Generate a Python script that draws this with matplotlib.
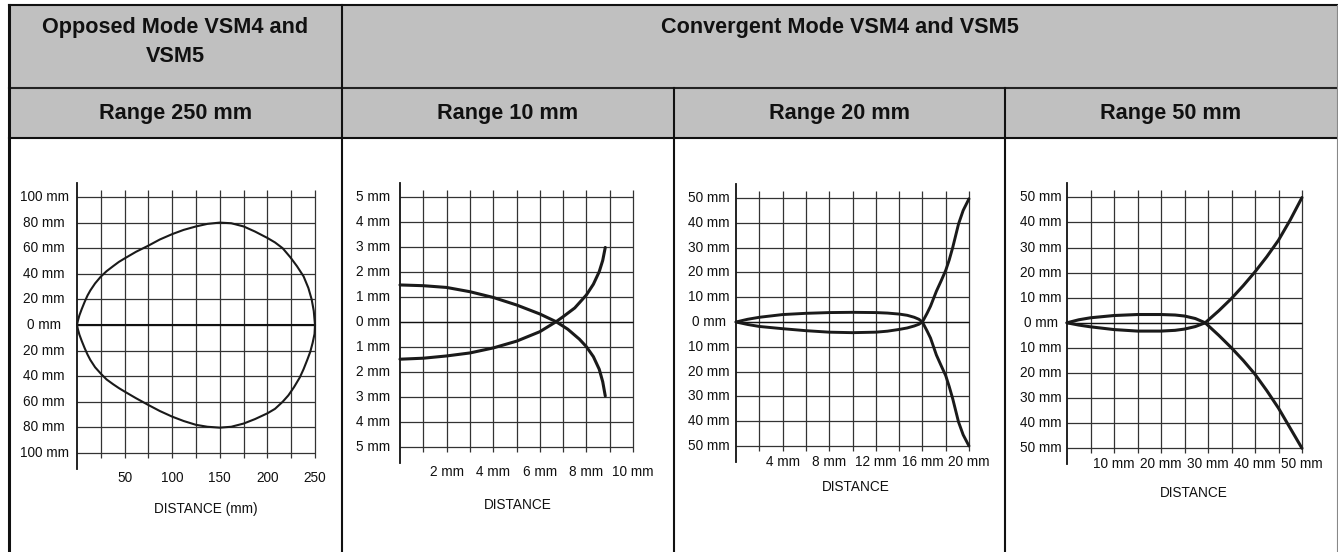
import numpy as np
import matplotlib
matplotlib.use("Agg")
import matplotlib.pyplot as plt
from matplotlib import font_manager as fm
from matplotlib.patches import Rectangle

# ---------------- data ----------------
header_opposed = ["Opposed Mode VSM4 and", "VSM5"]
header_convergent = "Convergent Mode VSM4 and VSM5"
range_titles = ["Range 250 mm", "Range 10 mm", "Range 20 mm", "Range 50 mm"]

# Panel 1: opposed mode, range 250 mm
p1_yticks = [100, 80, 60, 40, 20, 0, -20, -40, -60, -80, -100]
p1_ylabels = ["100 mm", "80 mm", "60 mm", "40 mm", "20 mm", "0 mm",
              "20 mm", "40 mm", "60 mm", "80 mm", "100 mm"]
p1_xticks = [50, 100, 150, 200, 250]
p1_xlabels = ["50", "100", "150", "200", "250"]
p1_upper_x = [0, 1, 2.5, 5, 8, 11, 14, 19, 25, 31, 38, 44, 50, 62, 75, 87, 100,
              112, 125, 137, 150, 162, 175, 187, 200, 208, 216, 224, 231, 238,
              243, 246.5, 248.7, 250]
p1_upper_y = [0, 3.5, 7.5, 12.5, 18, 23, 27, 32.5, 37.8, 42, 46, 49.3, 52, 57.2,
              62, 66.8, 71, 74.3, 77, 79, 80, 79.5, 77, 73, 68, 64.5, 60, 53, 46,
              38, 29, 20, 11, 0]
p1_lower_x = [0, 1, 2.5, 5, 8, 11, 14, 19, 25, 31, 38, 44, 50, 62, 75, 87, 100,
              112, 125, 137, 150, 162, 175, 187, 200, 208, 216, 222, 228, 234,
              238, 242, 245, 247.5, 249.5, 250]
p1_lower_y = [0, -3.5, -7.5, -12.5, -18, -23, -27.3, -33, -38, -42.5, -46.3, -49.3,
              -52, -57.2, -62.5, -67.2, -71.6, -75, -78, -79.5, -80.2, -79.5, -77,
              -73.5, -69, -65.5, -60, -55, -48.5, -41, -34.5, -27, -21, -14, -7, 0]

# Panel 2: convergent, range 10 mm
p2_yticks = [5, 4, 3, 2, 1, 0, -1, -2, -3, -4, -5]
p2_ylabels = ["5 mm", "4 mm", "3 mm", "2 mm", "1 mm", "0 mm",
              "1 mm", "2 mm", "3 mm", "4 mm", "5 mm"]
p2_xticks = [2, 4, 6, 8, 10]
p2_xlabels = ["2 mm", "4 mm", "6 mm", "8 mm", "10 mm"]
p2_a_x = [0, 1, 2, 3, 4, 5, 6, 6.7, 7.2, 7.7, 8, 8.3, 8.55, 8.7, 8.81]
p2_a_y = [1.47, 1.44, 1.37, 1.2, 0.97, 0.67, 0.31, 0.0, -0.3, -0.7, -1.0, -1.4,
          -1.9, -2.4, -2.97]
p2_b_x = [0, 1, 2, 3, 4, 5, 6, 6.7, 7, 7.5, 8, 8.3, 8.55, 8.7, 8.81]
p2_b_y = [-1.5, -1.46, -1.37, -1.25, -1.05, -0.78, -0.4, 0.0, 0.2, 0.55, 1.07,
          1.5, 2.0, 2.45, 2.97]

# Panel 3: convergent, range 20 mm
p3_yticks = [50, 40, 30, 20, 10, 0, -10, -20, -30, -40, -50]
p3_ylabels = ["50 mm", "40 mm", "30 mm", "20 mm", "10 mm", "0 mm",
              "10 mm", "20 mm", "30 mm", "40 mm", "50 mm"]
p3_xticks = [4, 8, 12, 16, 20]
p3_xlabels = ["4 mm", "8 mm", "12 mm", "16 mm", "20 mm"]
p3_lens_x = [0, 1, 2, 4, 6, 8, 10, 12, 13, 14, 14.7, 15.3, 15.7, 16]
p3_lens_up = [0, 1.1, 1.9, 3.0, 3.5, 3.8, 3.9, 3.8, 3.6, 3.2, 2.7, 1.9, 1.1, 0]
p3_lens_dn = [0, -1.0, -1.8, -2.7, -3.5, -4.1, -4.3, -4.1, -3.7, -3.0, -2.4,
              -1.6, -0.9, 0]
p3_branch_x = [16, 16.4, 16.7, 17.2, 17.6, 18, 18.3, 18.6, 19.1, 19.5, 20]
p3_branch_up = [0, 3.5, 6.4, 12.4, 16.5, 20.8, 25, 30, 39.5, 45, 49.7]
p3_branch_dn = [0, -3.6, -6.5, -13.3, -17.5, -21.6, -26, -30.9, -40.3, -45.5, -50]

# Panel 4: convergent, range 50 mm
p4_yticks = p3_yticks
p4_ylabels = p3_ylabels
p4_xticks = [10, 20, 30, 40, 50]
p4_xlabels = ["10 mm", "20 mm", "30 mm", "40 mm", "50 mm"]
p4_lens_x = [0, 2.5, 5, 10, 15, 20, 23, 25, 27.3, 29.4]
p4_lens_up = [0, 1.2, 2.0, 2.9, 3.3, 3.3, 3.1, 2.7, 1.7, 0]
p4_lens_dn = [0, -0.9, -1.6, -2.7, -3.3, -3.3, -3.0, -2.5, -1.5, 0]
p4_branch_x = [29.4, 32.3, 35, 37.5, 40, 42.5, 45, 47.5, 50]
p4_branch_up = [0, 4.8, 9.7, 14.8, 20.3, 26.3, 32.9, 41, 49.9]
p4_branch_dn = [0, -5, -10, -15, -20.5, -27, -34, -42, -50]

# ---------------- fonts ----------------
names = {f.name for f in fm.fontManager.ttflist}
if "Liberation Sans Narrow" in names:
    FAM = ["Liberation Sans Narrow", "DejaVu Sans"]
    TICK_FS, HEAD_FS = 10.8, 17.5
else:
    FAM = ["Liberation Sans", "DejaVu Sans"]
    TICK_FS, HEAD_FS = 9.8, 15.6
plt.rcParams["font.family"] = FAM

TXT = "#111111"
GRID = "#333333"

W, H = 1338, 552
fig = plt.figure(figsize=(W / 100, H / 100), dpi=100)

# ---------------- table frame ----------------
bg = fig.add_axes([0, 0, 1, 1])
bg.set_xlim(0, W)
bg.set_ylim(H, 0)
bg.axis("off")
bg.add_patch(Rectangle((9, 5), 1328, 133, facecolor="#c0c0c0", edgecolor="none"))
LW = 1.5
bg.plot([9, 1337], [5, 5], color="#111111", lw=LW)
bg.plot([9, 1337], [88, 88], color="#222222", lw=LW)
bg.plot([9, 1337], [138, 138], color="#111111", lw=LW)
bg.plot([9, 9], [5, H], color="#111111", lw=2.2)
bg.plot([1337, 1337], [5, H], color="#888888", lw=0.8)
bg.plot([342, 342], [5, H], color="#111111", lw=LW)
bg.plot([674, 674], [88, H], color="#111111", lw=LW)
bg.plot([1005, 1005], [88, H], color="#111111", lw=LW)

hk = dict(fontsize=HEAD_FS, fontweight="bold", color=TXT, ha="center", va="center")
bg.text(175.5, 28, header_opposed[0], **hk)
bg.text(175.5, 56, header_opposed[1], **hk)
bg.text(839.5, 28, header_convergent, **hk)
for cx, t in zip([175.5, 508, 839.5, 1171], range_titles):
    bg.text(cx, 113, t, **hk)


def make_ax(left, right, top, bottom):
    return fig.add_axes([left / W, 1 - bottom / H, (right - left) / W, (bottom - top) / H])


def panel(ax, xmax, ymax, xstep, ystep, yticks, ylabels, xticks, xlabels,
          ylab_dx, xlab_dy, dist_text, dist_dx, dist_dy, zero_lw):
    ax.set_xlim(0, xmax)
    ax.set_ylim(-ymax, ymax)
    ax.axis("off")
    hpx = ax.get_position().height * H
    xs = np.arange(xstep, xmax + xstep / 2, xstep)
    ys = np.arange(-ymax, ymax + ystep / 2, ystep)
    ax.vlines(xs, -5 / hpx, 1 + 7 / hpx, transform=ax.get_xaxis_transform(),
              colors=GRID, lw=0.9, clip_on=False)
    ax.hlines(ys, 0, xmax, colors=GRID, lw=0.9, clip_on=False)
    ax.hlines([0], 0, xmax, colors="#111111", lw=zero_lw, clip_on=False)
    ax.plot([0, 0], [-16 / hpx, 1 + 14 / hpx], transform=ax.get_xaxis_transform(),
            color="#111111", lw=1.3, clip_on=False)
    for yv, lab in zip(yticks, ylabels):
        ax.annotate(lab, xy=(0, yv), xycoords=ax.get_yaxis_transform(),
                    xytext=(-ylab_dx, 0), textcoords="offset pixels",
                    ha="center", va="center", fontsize=TICK_FS, color=TXT)
    for xv, lab in zip(xticks, xlabels):
        ax.annotate(lab, xy=(xv, 0), xycoords=ax.get_xaxis_transform(),
                    xytext=(0, -xlab_dy), textcoords="offset pixels",
                    ha="center", va="center", fontsize=TICK_FS, color=TXT)
    ax.annotate(dist_text, xy=(0.5, 0), xycoords="axes fraction",
                xytext=(dist_dx, -dist_dy), textcoords="offset pixels",
                ha="center", va="center", fontsize=TICK_FS, color=TXT)


CURVE = "#1a1a1a"
ck = dict(color=CURVE, solid_capstyle="round", solid_joinstyle="round", clip_on=False)

ax1 = make_ax(77, 315, 197, 453)
panel(ax1, 250, 100, 25, 20, p1_yticks, p1_ylabels, p1_xticks, p1_xlabels,
      33, 25, "DISTANCE (mm)", 10, 56, 1.5)
ax1.plot(p1_upper_x, p1_upper_y, lw=1.5, **ck)
ax1.plot(p1_lower_x, p1_lower_y, lw=1.5, **ck)

ax2 = make_ax(400, 633, 196.7, 446.7)
panel(ax2, 10, 5, 1, 1, p2_yticks, p2_ylabels, p2_xticks, p2_xlabels,
      27, 25, "DISTANCE", 1, 58, 0.9)
ax2.plot(p2_a_x, p2_a_y, lw=2.2, **ck)
ax2.plot(p2_b_x, p2_b_y, lw=2.2, **ck)

ax3 = make_ax(736, 969, 198, 446)
panel(ax3, 20, 50, 2, 10, p3_yticks, p3_ylabels, p3_xticks, p3_xlabels,
      27, 16, "DISTANCE", 3, 41, 0.9)
for yy in (p3_lens_up, p3_lens_dn):
    ax3.plot(p3_lens_x, yy, lw=2.1, **ck)
for yy in (p3_branch_up, p3_branch_dn):
    ax3.plot(p3_branch_x, yy, lw=2.1, **ck)

ax4 = make_ax(1067, 1302, 197.3, 448.3)
panel(ax4, 50, 50, 5, 10, p4_yticks, p4_ylabels, p4_xticks, p4_xlabels,
      26, 16, "DISTANCE", 9, 45, 0.9)
for yy in (p4_lens_up, p4_lens_dn):
    ax4.plot(p4_lens_x, yy, lw=2.2, **ck)
for yy in (p4_branch_up, p4_branch_dn):
    ax4.plot(p4_branch_x, yy, lw=2.2, **ck)

fig.savefig("out.png", dpi=100)
